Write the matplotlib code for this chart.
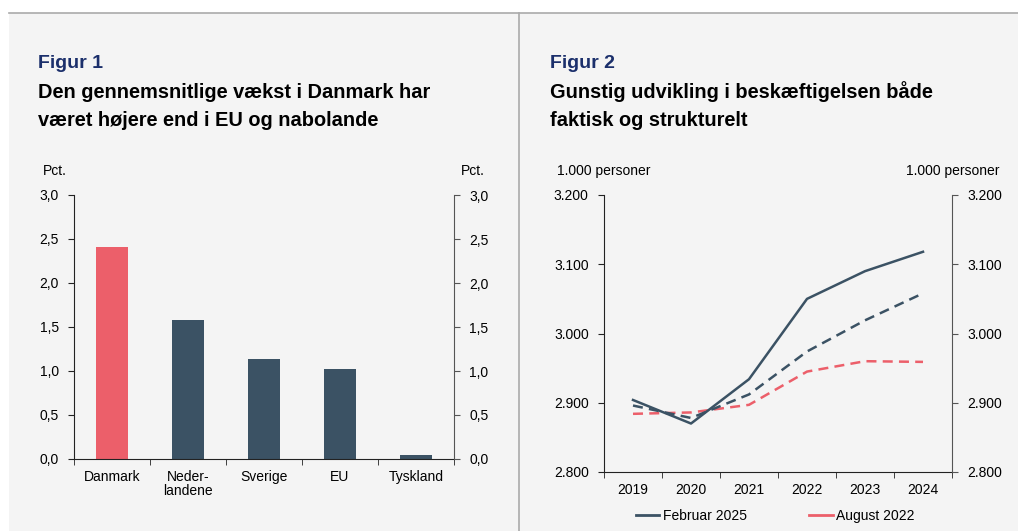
import matplotlib
matplotlib.use('Agg')
import matplotlib.pyplot as plt
from matplotlib.patches import Rectangle
from matplotlib.lines import Line2D

plt.rcParams['font.family'] = ['Liberation Sans', 'DejaVu Sans']

# Figur 1 data
lande = ['Danmark', 'Neder-\nlandene', 'Sverige', 'EU', 'Tyskland']
vaekst = [2.41, 1.58, 1.14, 1.02, 0.04]

# Figur 2 data
aar = ['2019', '2020', '2021', '2022', '2023', '2024']
faktisk_feb25 = [2904, 2870, 2934, 3050, 3090, 3118]
struktur_feb25 = [2896, 2878, 2912, 2974, 3019, 3058]
struktur_aug22 = [2884, 2886, 2897, 2945, 2960, 2959]

RED = '#ec5f6a'
DARK = '#3b5264'
NAVY = '#1b2f6b'
PANEL = '#f4f4f4'
W, H = 1018, 531

fig = plt.figure(figsize=(W / 100, H / 100), dpi=100, facecolor='white')

# background panels
fig.patches.append(Rectangle((9 / W, 0), 1 - 9 / W, 1 - 13 / H, transform=fig.transFigure,
                             facecolor=PANEL, edgecolor='none', zorder=-5))
fig.lines.append(Line2D([9 / W, 1], [1 - 13 / H, 1 - 13 / H], transform=fig.transFigure,
                        color='#aaaaaa', lw=1.2, zorder=-4))
fig.lines.append(Line2D([519 / W, 519 / W], [0, 1 - 13 / H], transform=fig.transFigure,
                        color='#aaaaaa', lw=1.2, zorder=-4))

def px(x, y):
    return x / W, 1 - y / H

# titles
for x0, nr, lines in [(38, 'Figur 1', ['Den gennemsnitlige vækst i Danmark har', 'været højere end i EU og nabolande']),
                      (550, 'Figur 2', ['Gunstig udvikling i beskæftigelsen både', 'faktisk og strukturelt'])]:
    fig.text(*px(x0, 63), nr, color=NAVY, fontsize=14, fontweight='bold', va='center')
    fig.text(*px(x0, 92), lines[0], color='black', fontsize=14.4, fontweight='bold', va='center')
    fig.text(*px(x0, 120), lines[1], color='black', fontsize=14.4, fontweight='bold', va='center')


def style_axes(ax, ax_r, ylim, yticks, fmt, n):
    for a in (ax, ax_r):
        a.set_facecolor('none')
        a.set_ylim(*ylim)
        a.set_yticks(yticks)
        a.set_yticklabels([fmt(v) for v in yticks])
        a.spines['top'].set_visible(False)
    ax.spines['right'].set_visible(False)
    ax_r.spines['left'].set_visible(False)
    ax_r.spines['bottom'].set_visible(False)
    ax_r.spines['right'].set_color('#555555')
    ax.spines['left'].set_color('#222222')
    ax.spines['bottom'].set_color('#222222')
    ax.tick_params(axis='y', direction='out', length=4, pad=7, labelsize=10, color='#222222')
    ax_r.tick_params(axis='y', direction='out', length=4, pad=7, labelsize=10, color='#555555')
    ax.set_xlim(-0.5, n - 0.5)
    ax.set_xticks(range(n))
    ax.set_xticks([i - 0.5 for i in range(n + 1)], minor=True)
    ax.tick_params(axis='x', which='major', length=0, labelsize=10, pad=8)
    ax.tick_params(axis='x', which='minor', direction='out', length=4, color='#222222')


# Figur 1
ax1 = fig.add_axes([74 / W, 72 / H, 380 / W, 264 / H])
ax1r = ax1.twinx()
ax1.bar(range(len(lande)), vaekst, width=0.42,
        color=[RED] + [DARK] * (len(lande) - 1), zorder=2)
style_axes(ax1, ax1r, (0, 3.0), [0, 0.5, 1.0, 1.5, 2.0, 2.5, 3.0],
           lambda v: f'{v:.1f}'.replace('.', ','), len(lande))
ax1.set_xticklabels(lande, linespacing=1.0)
fig.text(*px(43, 171), 'Pct.', fontsize=10, va='center')
fig.text(*px(461, 171), 'Pct.', fontsize=10, va='center')

# Figur 2
ax2 = fig.add_axes([604 / W, 59 / H, 348 / W, 277 / H])
ax2r = ax2.twinx()
x = range(len(aar))
ax2.plot(x, faktisk_feb25, color=DARK, lw=1.8, label='Februar 2025', zorder=3)
ax2.plot(x, struktur_feb25, color=DARK, lw=1.8, ls=(0, (4, 2.5)), zorder=3)
ax2.plot(x, struktur_aug22, color=RED, lw=1.8, ls=(0, (4, 2.5)), zorder=2)
style_axes(ax2, ax2r, (2800, 3200), [2800, 2900, 3000, 3100, 3200],
           lambda v: f'{v / 1000:.3f}', len(aar))
ax2.set_xticklabels(aar)
fig.text(*px(557, 171), '1.000 personer', fontsize=10, va='center')
fig.text(*px(999, 171), '1.000 personer', fontsize=10, va='center', ha='right')

handles = [Line2D([], [], color=DARK, lw=2), Line2D([], [], color=RED, lw=2)]
fig.legend(handles, ['Februar 2025', 'August 2022'], loc='center left',
           bbox_to_anchor=(623 / W, 1 - 516 / H), ncol=2, frameon=False,
           fontsize=10, handlelength=1.7, handletextpad=0.25, columnspacing=4.5)

fig.savefig('out.png', dpi=100, facecolor='white')
